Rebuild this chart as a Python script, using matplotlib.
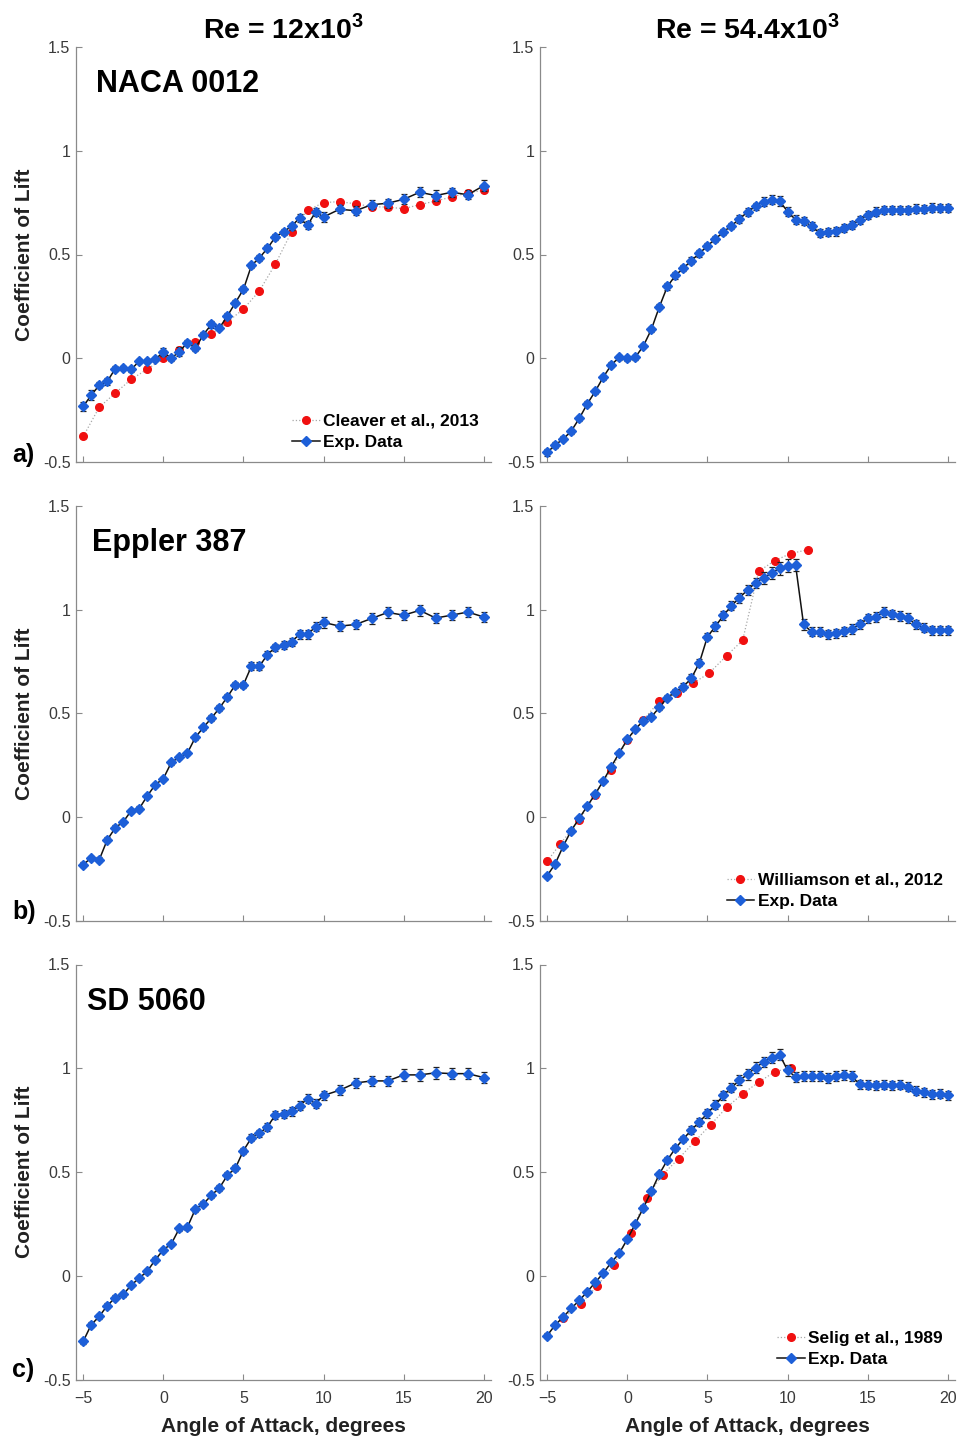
import matplotlib
matplotlib.use("Agg")
import matplotlib.pyplot as plt

plt.rcParams['font.family'] = ['Liberation Sans', 'DejaVu Sans']
plt.rcParams['mathtext.fontset'] = 'custom'
plt.rcParams['mathtext.rm'] = 'Liberation Sans'
plt.rcParams['mathtext.bf'] = 'Liberation Sans:bold'

# angles of attack (deg)
aoa_12k = [-5, -4.5, -4, -3.5, -3, -2.5, -2, -1.5, -1, -0.5, 0, 0.5, 1, 1.5, 2, 2.5,
           3, 3.5, 4, 4.5, 5, 5.5, 6, 6.5, 7, 7.5, 8, 8.5, 9, 9.5, 10,
           11, 12, 13, 14, 15, 16, 17, 18, 19, 20]
aoa_54k = [-5, -4.5, -4, -3.5, -3, -2.5, -2, -1.5, -1, -0.5, 0, 0.5, 1, 1.5, 2, 2.5,
           3, 3.5, 4, 4.5, 5, 5.5, 6, 6.5, 7, 7.5, 8, 8.5, 9, 9.5, 10, 10.5,
           11, 11.5, 12, 12.5, 13, 13.5, 14, 14.5, 15, 15.5, 16, 16.5, 17, 17.5,
           18, 18.5, 19, 19.5, 20]

# NACA 0012
naca_12k = [-0.232, -0.178, -0.13, -0.112, -0.05, -0.046, -0.054, -0.013, -0.013, -0.005,
            0.03, 0.0, 0.032, 0.075, 0.048, 0.114, 0.163, 0.146, 0.204, 0.268,
            0.332, 0.447, 0.484, 0.53, 0.585, 0.609, 0.636, 0.676, 0.641, 0.705,
            0.681, 0.718, 0.711, 0.74, 0.747, 0.766, 0.8, 0.784, 0.8, 0.788, 0.832]
naca_12k_err = [0.02, 0.025, 0.015, 0.015, 0.012, 0.01, 0.012, 0.01, 0.01, 0.01,
                0.02, 0.012, 0.02, 0.012, 0.015, 0.012, 0.015, 0.012, 0.015, 0.012,
                0.015, 0.012, 0.015, 0.015, 0.015, 0.015, 0.018, 0.02, 0.02, 0.02,
                0.025, 0.02, 0.022, 0.022, 0.022, 0.025, 0.025, 0.025, 0.022, 0.022, 0.025]
naca_54k = [-0.454, -0.418, -0.389, -0.351, -0.29, -0.22, -0.159, -0.091, -0.032, 0.005,
            0.0, 0.005, 0.059, 0.139, 0.248, 0.346, 0.399, 0.434, 0.471, 0.505,
            0.542, 0.575, 0.609, 0.639, 0.671, 0.705, 0.732, 0.755, 0.764, 0.758,
            0.707, 0.668, 0.662, 0.636, 0.604, 0.609, 0.611, 0.627, 0.641, 0.667,
            0.691, 0.707, 0.713, 0.715, 0.715, 0.715, 0.721, 0.72, 0.726, 0.723, 0.723]
naca_54k_err = [0.015, 0.015, 0.012, 0.012, 0.012, 0.012, 0.012, 0.012, 0.012, 0.012,
                0.012, 0.012, 0.012, 0.012, 0.012, 0.015, 0.015, 0.015, 0.015, 0.015,
                0.015, 0.015, 0.015, 0.015, 0.018, 0.018, 0.018, 0.02, 0.022, 0.022,
                0.02, 0.02, 0.02, 0.02, 0.02, 0.02, 0.02, 0.02, 0.02, 0.02,
                0.02, 0.02, 0.02, 0.02, 0.02, 0.02, 0.02, 0.02, 0.02, 0.02, 0.02]
cleaver_aoa = [-5, -4, -3, -2, -1, 0, 1, 2, 3, 4, 5, 6, 7, 8, 9, 10, 11, 12, 13,
               14, 15, 16, 17, 18, 19, 20]
cleaver_cl = [-0.377, -0.236, -0.168, -0.101, -0.053, 0.0, 0.04, 0.079, 0.117, 0.175,
              0.237, 0.325, 0.455, 0.609, 0.713, 0.75, 0.755, 0.744, 0.731, 0.728,
              0.721, 0.74, 0.758, 0.777, 0.797, 0.809]

# Eppler 387
e387_12k = [-0.228, -0.196, -0.205, -0.109, -0.051, -0.022, 0.032, 0.042, 0.103, 0.157,
            0.186, 0.264, 0.29, 0.309, 0.385, 0.433, 0.478, 0.526, 0.58, 0.639,
            0.639, 0.728, 0.728, 0.784, 0.819, 0.829, 0.846, 0.881, 0.881, 0.918,
            0.939, 0.921, 0.929, 0.958, 0.987, 0.974, 0.997, 0.96, 0.974, 0.989, 0.965]
e387_12k_err = [0.012, 0.01, 0.012, 0.012, 0.012, 0.01, 0.01, 0.01, 0.01, 0.01,
                0.01, 0.012, 0.01, 0.01, 0.012, 0.012, 0.015, 0.015, 0.015, 0.015,
                0.015, 0.018, 0.018, 0.018, 0.018, 0.02, 0.02, 0.022, 0.022, 0.022,
                0.025, 0.025, 0.022, 0.025, 0.025, 0.025, 0.025, 0.025, 0.025, 0.025, 0.025]
e387_54k = [-0.282, -0.224, -0.139, -0.064, -0.005, 0.054, 0.112, 0.176, 0.244, 0.311,
            0.375, 0.425, 0.465, 0.484, 0.529, 0.577, 0.604, 0.63, 0.67, 0.745,
            0.87, 0.92, 0.973, 1.019, 1.058, 1.095, 1.13, 1.154, 1.176, 1.199,
            1.213, 1.215, 0.929, 0.894, 0.894, 0.881, 0.886, 0.897, 0.907, 0.929,
            0.958, 0.965, 0.99, 0.978, 0.97, 0.96, 0.929, 0.913, 0.901, 0.901, 0.902]
e387_54k_err = [0.01, 0.01, 0.01, 0.01, 0.01, 0.01, 0.01, 0.01, 0.01, 0.01,
                0.01, 0.01, 0.012, 0.012, 0.012, 0.012, 0.015, 0.015, 0.018, 0.018,
                0.018, 0.02, 0.022, 0.022, 0.025, 0.025, 0.025, 0.028, 0.03, 0.03,
                0.03, 0.03, 0.025, 0.022, 0.022, 0.022, 0.022, 0.022, 0.022, 0.022,
                0.022, 0.022, 0.025, 0.022, 0.022, 0.022, 0.022, 0.022, 0.022, 0.022, 0.022]
williamson_aoa = [-5, -4.2, -3, -2, -1, 0, 1, 2, 3.1, 4.1, 5.1, 6.2, 7.2, 8.2, 9.2,
                  10.2, 11.3]
williamson_cl = [-0.212, -0.13, -0.013, 0.109, 0.228, 0.373, 0.47, 0.558, 0.6, 0.646,
                 0.694, 0.779, 0.853, 1.185, 1.237, 1.271, 1.29]

# SD 5060
sd_12k = [-0.316, -0.236, -0.196, -0.144, -0.106, -0.09, -0.045, -0.011, 0.022, 0.077,
          0.125, 0.154, 0.228, 0.234, 0.321, 0.346, 0.388, 0.423, 0.484, 0.519,
          0.603, 0.665, 0.686, 0.718, 0.776, 0.78, 0.792, 0.819, 0.853, 0.83,
          0.869, 0.894, 0.929, 0.939, 0.939, 0.968, 0.968, 0.978, 0.974, 0.974, 0.955]
sd_12k_err = [0.012, 0.012, 0.012, 0.012, 0.012, 0.01, 0.01, 0.01, 0.012, 0.012,
              0.01, 0.01, 0.012, 0.012, 0.012, 0.012, 0.012, 0.015, 0.015, 0.015,
              0.015, 0.018, 0.018, 0.018, 0.02, 0.02, 0.02, 0.022, 0.022, 0.022,
              0.022, 0.025, 0.025, 0.025, 0.025, 0.028, 0.028, 0.028, 0.028, 0.028, 0.028]
sd_54k = [-0.288, -0.237, -0.199, -0.157, -0.119, -0.077, -0.032, 0.013, 0.064, 0.109,
          0.176, 0.25, 0.327, 0.407, 0.49, 0.558, 0.614, 0.66, 0.702, 0.742,
          0.782, 0.825, 0.869, 0.907, 0.942, 0.97, 1.003, 1.029, 1.051, 1.066,
          0.99, 0.958, 0.962, 0.963, 0.962, 0.954, 0.962, 0.966, 0.962, 0.923,
          0.921, 0.917, 0.92, 0.917, 0.92, 0.91, 0.891, 0.885, 0.875, 0.878, 0.87]
sd_54k_err = [0.01, 0.01, 0.01, 0.01, 0.01, 0.01, 0.01, 0.01, 0.01, 0.01,
              0.01, 0.01, 0.012, 0.012, 0.012, 0.015, 0.015, 0.015, 0.018, 0.018,
              0.02, 0.02, 0.022, 0.022, 0.025, 0.025, 0.025, 0.025, 0.025, 0.025,
              0.025, 0.025, 0.025, 0.025, 0.025, 0.025, 0.025, 0.025, 0.025, 0.022,
              0.022, 0.022, 0.022, 0.022, 0.022, 0.022, 0.022, 0.022, 0.022, 0.022, 0.022]
selig_aoa = [-4, -2.9, -1.9, -0.85, 0.2, 1.2, 2.2, 3.2, 4.2, 5.2, 6.2, 7.2, 8.2, 9.2, 10.2]
selig_cl = [-0.205, -0.135, -0.051, 0.053, 0.205, 0.377, 0.487, 0.564, 0.647, 0.728,
            0.811, 0.877, 0.933, 0.983, 1.003]

col_titles = [r'Re = 12x10$^{\mathbf{3}}$', r'Re = 54.4x10$^{\mathbf{3}}$']
airfoils = ['NACA 0012', 'Eppler 387', 'SD 5060']
airfoil_x = [0.048, 0.039, 0.027]
panel_tags = ['a)', 'b)', 'c)']
exp_sets = [
    [(aoa_12k, naca_12k, naca_12k_err), (aoa_54k, naca_54k, naca_54k_err)],
    [(aoa_12k, e387_12k, e387_12k_err), (aoa_54k, e387_54k, e387_54k_err)],
    [(aoa_12k, sd_12k, sd_12k_err), (aoa_54k, sd_54k, sd_54k_err)],
]
# reference data: (row, col, x, y, label)
refs = [
    (0, 0, cleaver_aoa, cleaver_cl, 'Cleaver et al., 2013'),
    (1, 1, williamson_aoa, williamson_cl, 'Williamson et al., 2012'),
    (2, 1, selig_aoa, selig_cl, 'Selig et al., 1989'),
]

blue = '#1d5fd8'
spine_col = '#8a8a8a'
tick_col = '#3a3a3a'

fig = plt.figure(figsize=(9.68, 14.4), dpi=100)
lefts = [76 / 968, 540 / 968]
bottoms = [1 - 462 / 1440, 1 - 921 / 1440, 1 - 1379.5 / 1440]
w = 415 / 968
h = 415 / 1440

axes = [[None, None], [None, None], [None, None]]
for r in range(3):
    for c in range(2):
        ax = fig.add_axes([lefts[c], bottoms[r], w, h])
        axes[r][c] = ax
        ax.set_xlim(-5.45, 20.45)
        ax.set_ylim(-0.5, 1.5)
        ax.spines['top'].set_visible(False)
        ax.spines['right'].set_visible(False)
        for s in ['left', 'bottom']:
            ax.spines[s].set_color(spine_col)
            ax.spines[s].set_linewidth(0.9)
        ax.set_xticks([-5, 0, 5, 10, 15, 20])
        ax.set_yticks([-0.5, 0, 0.5, 1, 1.5])
        ax.set_yticklabels(['-0.5', '0', '0.5', '1', '1.5'])
        ax.tick_params(direction='in', length=4, width=0.8, color=spine_col,
                       labelcolor=tick_col, labelsize=11.5)
        ax.tick_params(axis='y', pad=4)
        ax.tick_params(axis='x', pad=8)
        if r < 2:
            ax.tick_params(axis='x', labelbottom=False)
        else:
            ax.set_xlabel('Angle of Attack, degrees', fontsize=15, fontweight='bold',
                          color='#222222', labelpad=8)
        if c == 0:
            ax.set_ylabel('Coefficient of Lift', fontsize=15, fontweight='bold',
                          color='#222222', labelpad=6)

        x, y, e = exp_sets[r][c]
        for rr, cc, rx, ry, lab in refs:
            if rr == r and cc == c:
                ax.plot(rx, ry, linestyle=':', color='#a8a8a8', linewidth=0.9,
                        marker='o', markersize=5.5, markerfacecolor='#f01010',
                        markeredgecolor='#f01010', label=lab, zorder=2)
        ax.errorbar(x, y, yerr=e, fmt='none', ecolor='#222222', elinewidth=0.9,
                    capsize=2.5, capthick=0.9, zorder=3)
        ax.plot(x, y, '-', color='#111111', linewidth=1.1, marker='D', markersize=4.6,
                markerfacecolor=blue, markeredgecolor=blue, label='Exp. Data', zorder=4)

        if any(rr == r and cc == c for rr, cc, _, _, _ in refs):
            ax.legend(loc='lower right', bbox_to_anchor=(1.0, 0.0), frameon=False,
                      prop={'weight': 'bold', 'size': 12.5}, handlelength=1.6,
                      handletextpad=0.2, labelspacing=0.35, borderaxespad=0.3)

    axes[r][0].text(airfoil_x[r], 0.91, airfoils[r], transform=axes[r][0].transAxes,
                    fontsize=22, fontweight='bold', va='center', ha='left')
    fig.text(12 / 968, 1 - [455, 912, 1370][r] / 1440, panel_tags[r], fontsize=18,
             fontweight='bold', va='center', ha='left')

for c in range(2):
    axes[0][c].set_title(col_titles[c], fontsize=20.5, fontweight='bold', pad=6)

fig.savefig('out.png', dpi=100)
